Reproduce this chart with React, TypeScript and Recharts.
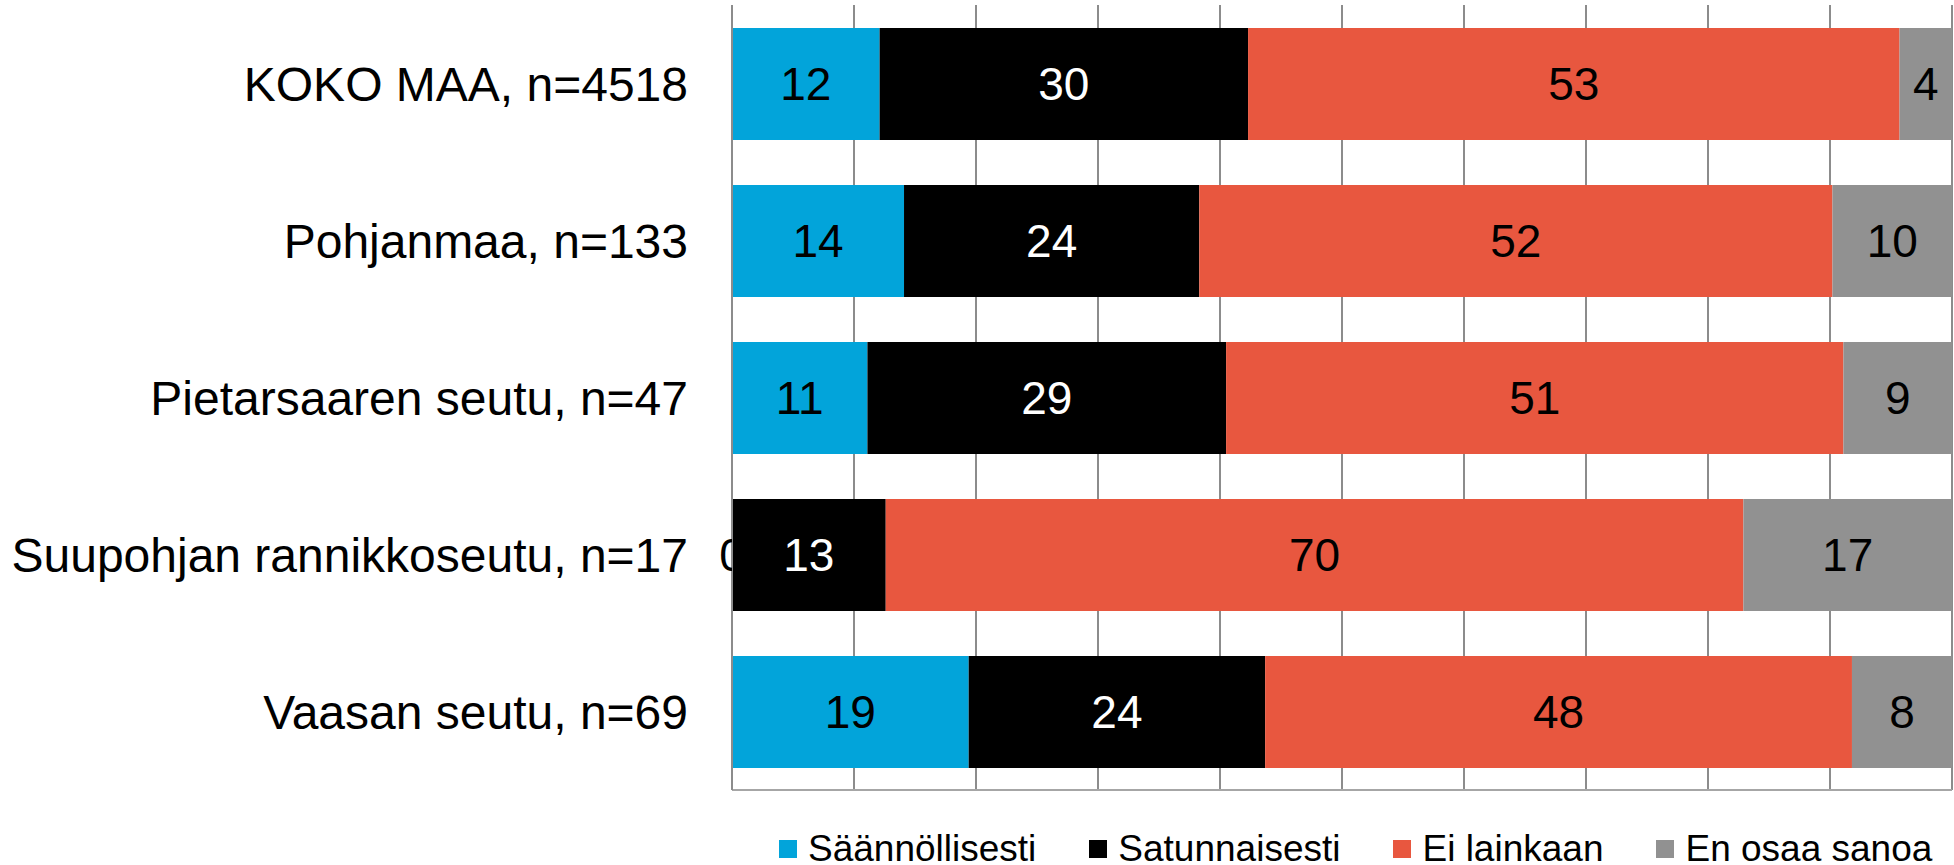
import React from 'react';
import { BarChart, Bar, XAxis, YAxis, CartesianGrid, Legend, LabelList } from 'recharts';

const categories = [
  'KOKO MAA, n=4518',
  'Pohjanmaa, n=133',
  'Pietarsaaren seutu, n=47',
  'Suupohjan rannikkoseutu, n=17',
  'Vaasan seutu, n=69',
];
const saannollisesti = [12.1, 14.1, 11.1, 0, 19.4];
const satunnaisesti = [30.2, 24.2, 29.4, 12.6, 24.3];
const eiLainkaan = [53.4, 51.9, 50.6, 70.3, 48.1];
const enOsaa = [4.3, 9.8, 8.9, 17.1, 8.2];
const xTicks = [0, 10, 20, 30, 40, 50, 60, 70, 80, 90, 100];

const series = [
  { key: 's1', name: 'Säännöllisesti', color: '#02A4DA', label: '#000000' },
  { key: 's2', name: 'Satunnaisesti', color: '#000000', label: '#FFFFFF' },
  { key: 's3', name: 'Ei lainkaan', color: '#E8573F', label: '#000000' },
  { key: 's4', name: 'En osaa sanoa', color: '#919191', label: '#000000' },
];

const data = categories.map((name, i) => ({
  name,
  s1: saannollisesti[i],
  s2: satunnaisesti[i],
  s3: eiLainkaan[i],
  s4: enOsaa[i],
}));

const FONT = '"Liberation Sans", Arial, sans-serif';

const LegendContent = () => (
  <div style={{ display: 'flex', alignItems: 'center', fontFamily: FONT, fontSize: 37, color: '#000', whiteSpace: 'nowrap' }}>
    {series.map((s) => (
      <div key={s.key} style={{ display: 'flex', alignItems: 'center', marginRight: 53 }}>
        <div style={{ width: 18, height: 18, background: s.color, marginRight: 11 }} />
        <span>{s.name}</span>
      </div>
    ))}
  </div>
);

const makeLabel = (fill: string, isSecond: boolean) => (props: any) => {
  const { x, y, width, height, value, index } = props;
  if (value === undefined || value === null) return null;
  const nx = Number(x);
  const ny = Number(y);
  const nh = Number(height);
  const cx = nx + Number(width) / 2;
  const cy = ny + nh / 2;
  const main = (
    <text
      x={cx}
      y={cy}
      textAnchor="middle"
      dominantBaseline="central"
      fontSize={46}
      fill={fill}
      fontFamily={FONT}
    >
      {String(Math.round(Number(value)))}
    </text>
  );
  // The zero-width "Säännöllisesti" segment is skipped by the library; draw its
  // label here, only the part left of this segment (as in the reference).
  const prev = isSecond && typeof index === 'number' ? saannollisesti[index] : null;
  if (prev === 0) {
    const id = `zclip-${index}`;
    return (
      <g>
        <defs>
          <clipPath id={id}>
            <rect x={0} y={ny} width={nx} height={nh} />
          </clipPath>
        </defs>
        <text
          x={nx}
          y={cy}
          textAnchor="middle"
          dominantBaseline="central"
          fontSize={46}
          fill="#000"
          fontFamily={FONT}
          clipPath={`url(#${id})`}
        >
          {String(prev)}
        </text>
        {main}
      </g>
    );
  }
  return main;
};

const NoTick = () => <g />;

export default function App() {
  return (
    <div style={{ position: 'absolute', left: 0, top: 0, width: 1954, height: 865, background: '#fff' }}>
      <BarChart
        width={1954}
        height={865}
        data={data}
        layout="vertical"
        margin={{ top: 5, right: 2, bottom: 74, left: 0 }}
        barSize={112}
      >
        <CartesianGrid horizontal={false} stroke="#8c8c8c" strokeWidth={2} />
        <XAxis
          type="number"
          domain={[0, 100]}
          ticks={xTicks}
          tick={<NoTick />}
          tickLine={false}
          height={1}
          axisLine={{ stroke: '#a6a6a6', strokeWidth: 2 }}
        />
        <XAxis
          xAxisId="top"
          orientation="top"
          type="number"
          domain={[0, 100]}
          ticks={xTicks}
          tick={<NoTick />}
          tickLine={false}
          height={0}
          axisLine={{ stroke: '#b4b4b4', strokeWidth: 2 }}
        />
        <YAxis
          type="category"
          dataKey="name"
          width={732}
          tickLine={false}
          tickSize={0}
          tickMargin={44}
          axisLine={{ stroke: '#8c8c8c', strokeWidth: 2 }}
          tick={{ fontSize: 48, fill: '#000', fontFamily: FONT }}
          interval={0}
        />
        {series.map((s) => (
          <Bar key={s.key} dataKey={s.key} name={s.name} stackId="a" fill={s.color} isAnimationActive={false}>
            <LabelList dataKey={s.key} content={makeLabel(s.label, s.key === 's2')} />
          </Bar>
        ))}
        <Legend
          content={<LegendContent />}
          wrapperStyle={{ position: 'absolute', left: 779, top: 828, width: 'auto', height: 0, overflow: 'visible' }}
        />
      </BarChart>
    </div>
  );
}
